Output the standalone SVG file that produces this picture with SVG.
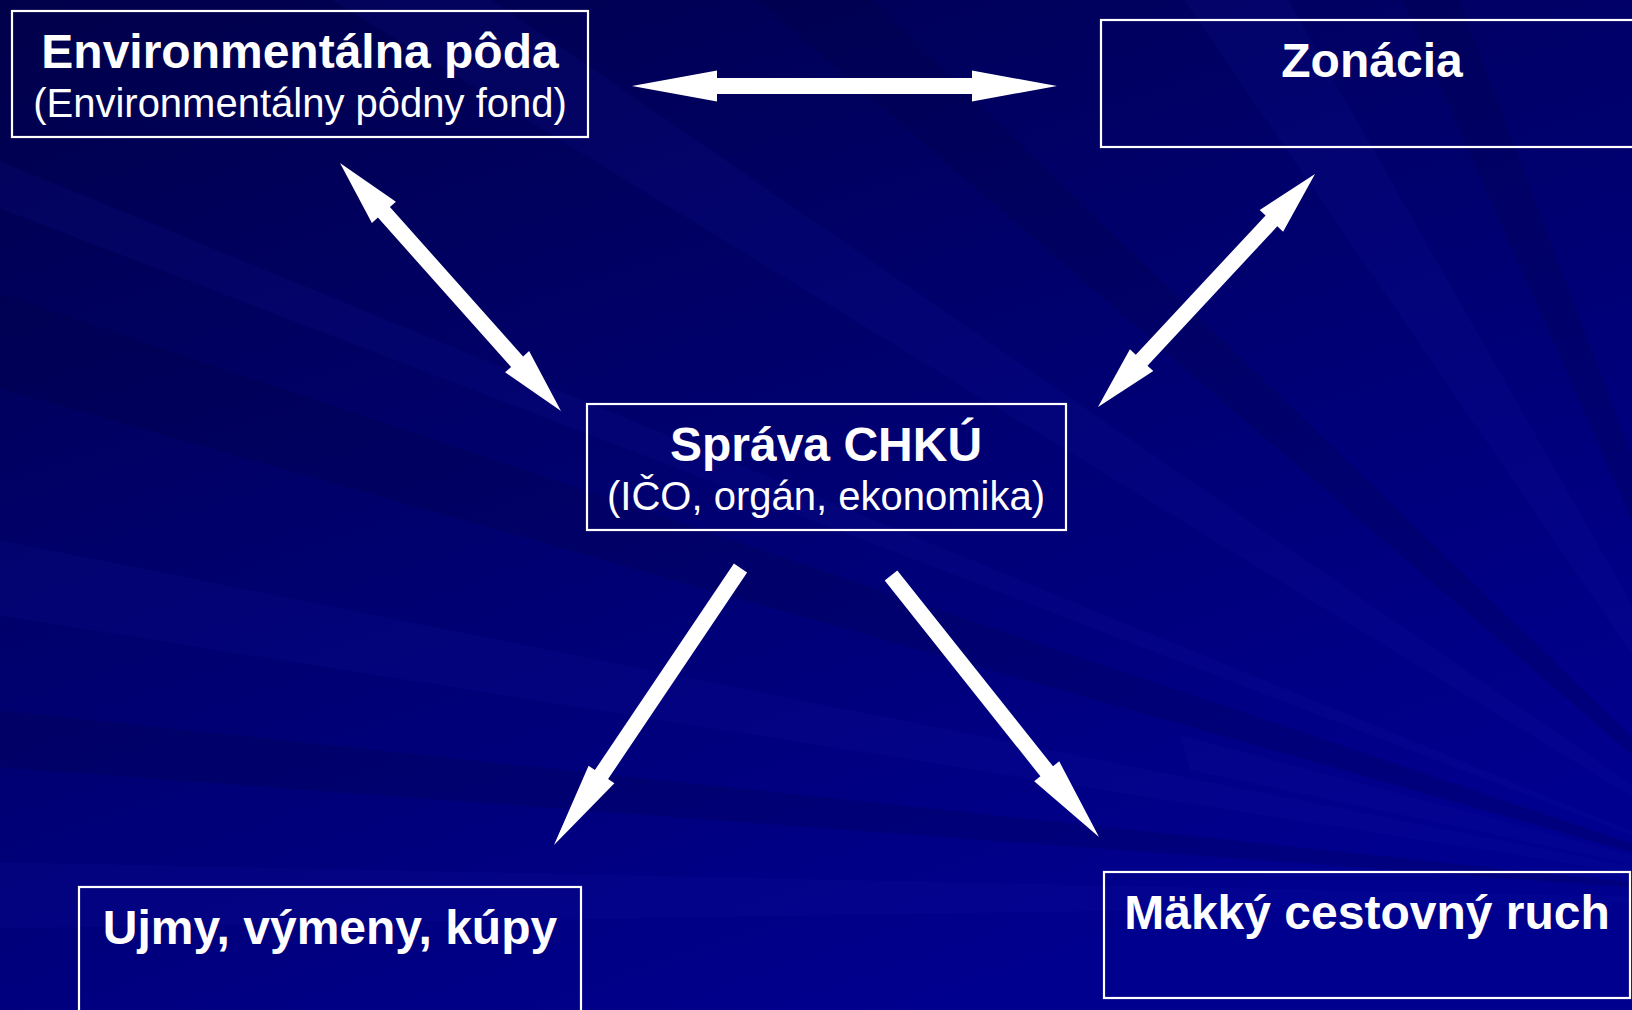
<svg xmlns="http://www.w3.org/2000/svg" width="1632" height="1010" viewBox="0 0 1632 1010">
<defs>
<linearGradient id="bg" x1="0" y1="0" x2="0.55" y2="1">
<stop offset="0" stop-color="#00004a"/>
<stop offset="0.45" stop-color="#00006a"/>
<stop offset="1" stop-color="#00008e"/>
</linearGradient>
<style>
.box{fill:none;stroke:#ffffff;stroke-width:2.2}
.t1{font-family:"Liberation Sans",Arial,sans-serif;font-weight:bold;font-size:48px;fill:#ffffff;text-anchor:middle}
.t2{font-family:"Liberation Sans",Arial,sans-serif;font-size:40px;fill:#ffffff;text-anchor:middle}
.arr{fill:#ffffff}
.dk{fill:#000030;opacity:0.16}
.lt{fill:#1515b0;opacity:0.12}
</style>
</defs>
<rect x="0" y="0" width="1632" height="1010" fill="url(#bg)"/>
<g id="rays">
<polygon class="dk" points="1800,900 -100,260 -100,360"/>
<polygon class="lt" points="1800,900 -100,520 -100,600"/>
<polygon class="dk" points="1800,900 -100,700 -100,760"/>
<polygon class="lt" points="1800,900 -100,860 -100,930"/>
<polygon class="lt" points="1800,900 250,-50 420,-50"/>
<polygon class="dk" points="1800,900 700,-50 820,-50"/>
<polygon class="lt" points="1800,900 1150,-50 1260,-50"/>
<polygon class="dk" points="1800,900 1380,-50 1440,-50"/>
<polygon class="lt" points="1800,900 -100,120 -100,170"/>
<polygon class="lt" points="1800,900 1180,735 1190,770"/>
</g>
<g id="connectors">
<polygon class="arr" points="632,86 717,70.5 717,78 972,78 972,70.5 1057,86 972,101.5 972,94 717,94 717,101.5"/>
<polygon class="arr" points="340,163 395.9,201.7 389.9,207 523.1,356.4 529.1,351.1 561,411 505.1,372.3 511.1,367 377.9,217.6 371.9,222.9"/>
<polygon class="arr" points="1315,174 1283.1,231.7 1277.3,226.3 1147.5,365.7 1153.3,371.1 1098,407 1129.9,349.3 1135.8,354.8 1265.6,215.4 1259.7,209.9"/>
<polygon class="arr" points="733.9,563.5 747.1,572.5 608.1,779 614.4,783.2 554,845 588.6,765.8 594.9,770"/>
<polygon class="arr" points="884.7,580.5 897.3,570.5 1053,766.3 1059.2,761.3 1099,837 1034.2,781.3 1040.4,776.3"/>
</g>
<g id="node-env">
<rect class="box" x="12" y="11" width="576" height="126"/>
<text class="t1" x="300" y="68">Environmentálna pôda</text>
<text class="t2" x="300" y="117">(Environmentálny pôdny fond)</text>
</g>
<g id="node-zonacia">
<rect class="box" x="1101" y="20" width="560" height="127"/>
<text class="t1" x="1372" y="77">Zonácia</text>
</g>
<g id="node-sprava">
<rect class="box" x="587" y="404" width="479" height="126"/>
<text class="t1" x="826" y="461">Správa CHKÚ</text>
<text class="t2" x="826" y="510">(IČO, orgán, ekonomika)</text>
</g>
<g id="node-ujmy">
<rect class="box" x="79" y="887" width="502" height="140"/>
<text class="t1" x="330" y="944">Ujmy, výmeny, kúpy</text>
</g>
<g id="node-makky">
<rect class="box" x="1104" y="872" width="526" height="126"/>
<text class="t1" x="1367" y="929">Mäkký cestovný ruch</text>
</g>
</svg>
